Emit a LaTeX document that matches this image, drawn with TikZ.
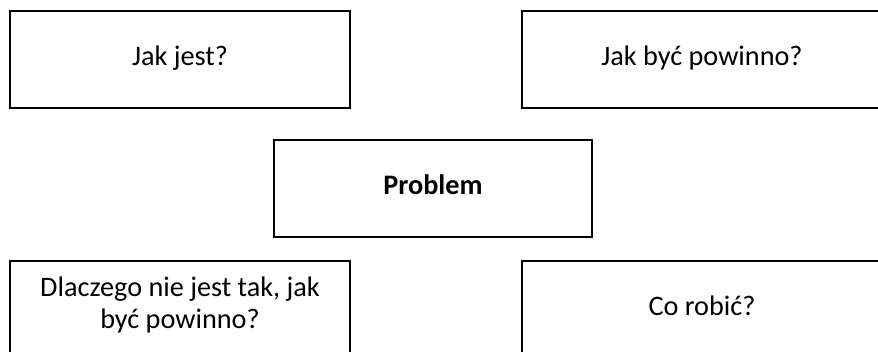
\documentclass[tikz,border=0pt]{standalone}
\usepackage{fontspec}
\setmainfont{Carlito}
\usetikzlibrary{positioning}

\tikzset{
  box/.style={draw, line width=0.8pt, minimum width=136pt, align=center,
    text height=8pt, text depth=2.8pt, inner xsep=4pt, inner ysep=14pt,
    font=\fontsize{11.3pt}{12.9pt}\selectfont},
  widebox/.style={box, minimum width=144pt},
  cutbox/.style={text depth=30pt}
}

\begin{document}
\begin{tikzpicture}[node distance=12pt]
\useasboundingbox (0,0) rectangle (351.2pt,-140.4pt);

\node[box, minimum width=127.2pt] (problem) at (173.2pt,-75.2pt) {\textbf{Problem}};

\node[box] (jest) [above=of problem, xshift=-101.2pt] {Jak jest?};
\node[widebox] (powinno) [above=of problem, xshift=107.6pt] {Jak być powinno?};

% two lines: baseline is the last one
\node[box, cutbox, inner ysep=6.4pt, text height=20.8pt] (dlaczego) [below=8.8pt of problem, xshift=-101.2pt] {Dlaczego nie jest tak, jak\\być powinno?};
\node[widebox, cutbox] (robic) [below=8.8pt of problem, xshift=107.6pt] {Co robić?};
\end{tikzpicture}
\end{document}
